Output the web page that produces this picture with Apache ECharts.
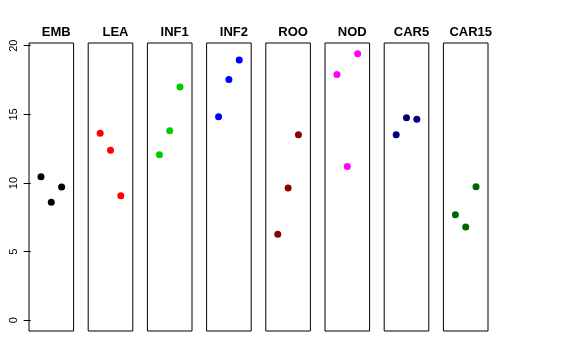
<!DOCTYPE html>
<html>
<head>
<meta charset="utf-8">
<script src="https://cdn.jsdelivr.net/npm/echarts@6/dist/echarts.min.js"></script>
<style>html,body{margin:0;padding:0;background:#fff}#c{width:576px;height:360px}</style>
</head>
<body>
<div id="c"></div>
<script>
const panels = ["EMB", "LEA", "INF1", "INF2", "ROO", "NOD", "CAR5", "CAR15"];
const xPositions = [1, 2, 3];
const EMB = [10.46, 8.59, 9.71];
const LEA = [13.62, 12.38, 9.08];
const INF1 = [12.06, 13.81, 16.99];
const INF2 = [14.83, 17.55, 18.96];
const ROO = [6.26, 9.64, 13.52];
const NOD = [17.91, 11.21, 19.42];
const CAR5 = [13.52, 14.76, 14.64];
const CAR15 = [7.69, 6.80, 9.73];
const yTicks = [0, 5, 10, 15, 20];
const colors = ["#000000", "#FF0000", "#00CD00", "#0000FF", "#8B0000", "#FF00FF", "#000080", "#006400"];

const values = [EMB, LEA, INF1, INF2, ROO, NOD, CAR5, CAR15];
const chart = echarts.init(document.getElementById('c'), null, {renderer: 'canvas'});
const grids = [], xAxes = [], yAxes = [], series = [], titles = [];
const step = 59.2, w = 44.6, left0 = 29;
panels.forEach((p, i) => {
  const l = left0 + i * step;
  grids.push({left: l, top: 43, width: w, height: 288, show: true, borderColor: '#000', borderWidth: 1, backgroundColor: 'transparent'});
  xAxes.push({type: 'value', gridIndex: i, min: -0.16, max: 4.16, show: false});
  yAxes.push({
    type: 'value', gridIndex: i, min: -0.78, max: 20.2,
    show: i === 0,
    splitLine: {show: false},
    axisLine: {show: false},
    axisTick: {show: i === 0, length: 7, customValues: yTicks, lineStyle: {color: '#000'}},
    axisLabel: {show: i === 0, customValues: yTicks, rotate: 90, margin: 10, color: '#000', fontSize: 11, fontFamily: 'Liberation Sans, Arial, sans-serif'}
  });
  series.push({
    type: 'scatter', xAxisIndex: i, yAxisIndex: i,
    data: values[i].map((v, k) => [xPositions[k], v]),
    symbolSize: 7, itemStyle: {color: colors[i], opacity: 1},
    silent: true
  });
  titles.push({
    text: p, left: l + w / 2, top: 21, textAlign: 'center',
    textStyle: {fontSize: 13, fontWeight: 'bold', color: '#000', fontFamily: 'Liberation Sans, Arial, sans-serif'}
  });
});
chart.setOption({
  animation: false,
  title: titles,
  grid: grids,
  xAxis: xAxes,
  yAxis: yAxes,
  series: series
});
</script>
</body>
</html>
